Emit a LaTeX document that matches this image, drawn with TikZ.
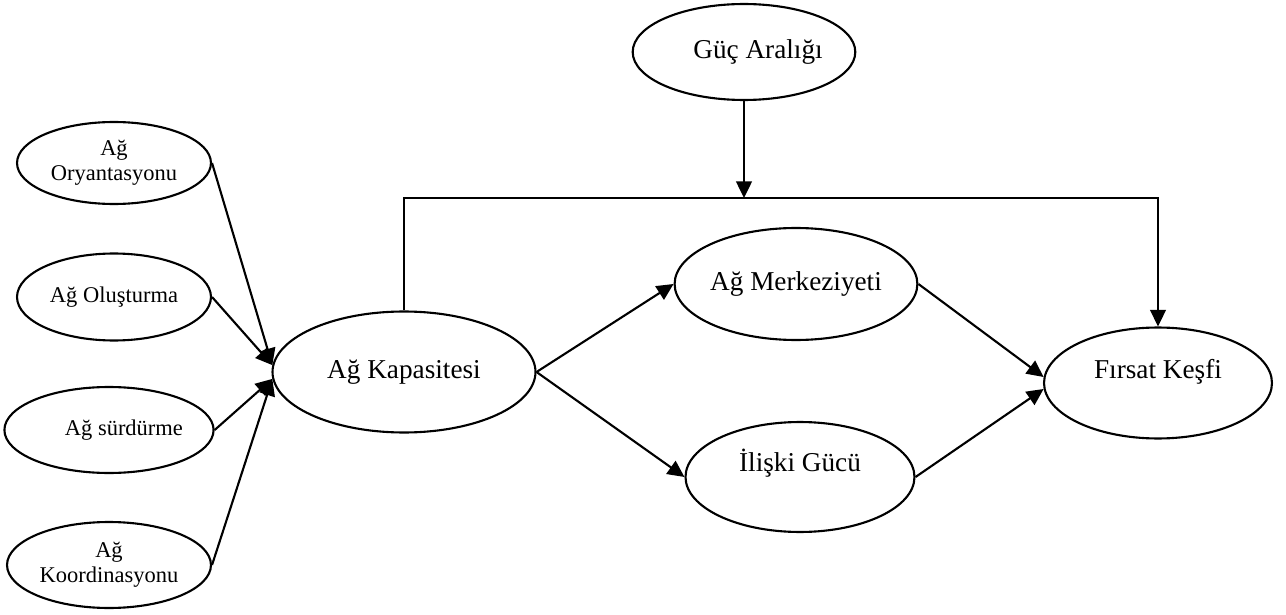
\documentclass[tikz,border=0pt]{standalone}
\usepackage{fontspec}
\setmainfont{Liberation Serif}
\usetikzlibrary{shapes.geometric,arrows.meta}
\tikzset{
  oval/.style={draw, ellipse, line width=1.2pt, inner sep=0pt, font=\fontsize{15.5}{17}\selectfont},
  smalloval/.style={oval, align=center, font=\fontsize{12.8}{14}\selectfont},
  arr/.style={-{Triangle[length=9.5pt,width=9pt]}, line width=1.2pt}
}
\begin{document}
\begin{tikzpicture}[x=0.02cm, y=-0.02cm]
\useasboundingbox (0,0) rectangle (1286,615);

\node[oval, minimum width=4.04cm, minimum height=1.92cm] (guc) at (744,52) {\hspace{16pt}Güç Aralığı};
\node[smalloval, minimum width=3.88cm, minimum height=1.64cm] (oryan) at (114,163) {Ağ\\Oryantasyonu};
\node[smalloval, minimum width=3.88cm, minimum height=1.74cm] (olus) at (114,297) {Ağ Oluşturma};
\node[smalloval, minimum width=4.08cm, minimum height=1.72cm] (surd) at (109,430) {\hspace{17pt}Ağ sürdürme};
\node[smalloval, minimum width=4.08cm, minimum height=1.72cm] (koord) at (109,565) {Ağ\\Koordinasyonu};
\node[oval, minimum width=5.26cm, minimum height=2.42cm] (kapas) at (404,372) {Ağ Kapasitesi};
\node[oval, minimum width=4.52cm, minimum height=2.24cm] (merk) at (796,284) {Ağ Merkeziyeti};
\node[oval, minimum width=4.58cm, minimum height=2.2cm, text height=10pt, text depth=16pt] (iliski) at (800,477) {İlişki Gücü};
\node[oval, minimum width=4.56cm, minimum height=2.22cm, text height=10pt, text depth=15pt] (firsat) at (1158,383) {Fırsat Keşfi};

\coordinate (bar) at (744,198);

\draw[arr] (oryan.east) -- (kapas.177);
\draw[arr] (olus.east) -- (kapas.177);
\draw[arr] (surd.east) -- (kapas.183.5);
\draw[arr] (koord.east) -- (kapas.183.5);
\draw[arr] (kapas.east) -- (merk.west);
\draw[arr] (kapas.east) -- (iliski.west);
\draw[arr] (merk.east) -- (firsat.177);
\draw[arr] (iliski.east) -- (firsat.183);
\draw[arr] (guc.south) -- (bar);
\draw[arr] (kapas.north) -- (kapas.north |- bar) -| (firsat.north);
\end{tikzpicture}
\end{document}
